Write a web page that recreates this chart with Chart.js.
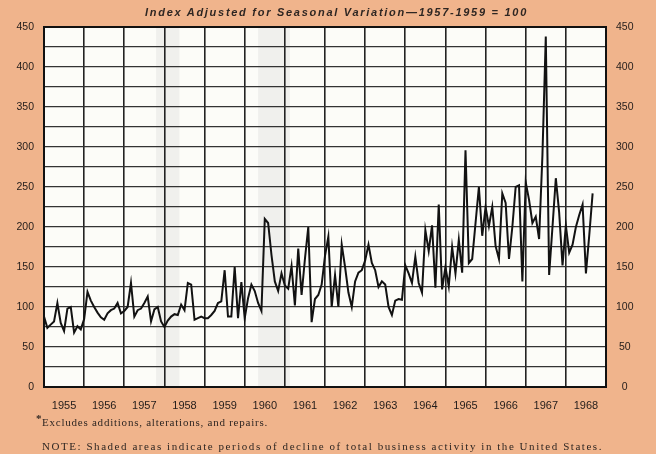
<!DOCTYPE html>
<html>
<head>
<meta charset="utf-8">
<script src="https://cdn.jsdelivr.net/npm/chart.js@4/dist/chart.umd.min.js"></script>
<style>
html,body{margin:0;padding:0;background:#f0b48c;}
#wrap{position:relative;width:656px;height:454px;overflow:hidden;background:#f0b48c;}
#wrap canvas{position:absolute;left:0;top:0;}
.t{position:absolute;white-space:nowrap;color:#2e2622;line-height:1;}
#title{top:6px;left:145px;font:italic bold 11px "Liberation Sans",sans-serif;}
#f1{top:416px;left:42px;font:11px "Liberation Serif",serif;}
#f1 sup{position:absolute;left:-6px;top:-4px;font-size:11px;font-weight:bold;}
#f2{top:440px;left:42px;font:11px "Liberation Serif",serif;}
</style>
</head>
<body>
<div id="wrap">
  <canvas id="c" width="656" height="454"></canvas>
  <div class="t" id="title">Index Adjusted for Seasonal Variation—1957-1959 = 100</div>
  <div class="t" id="f1"><sup>*</sup><span id="f1t">Excludes additions, alterations, and repairs.</span></div>
  <div class="t" id="f2">NOTE: Shaded areas indicate periods of decline of total business activity in the United States.</div>
</div>
<script>
// ---- data (monthly index, 1957-1959 = 100) ----
const years = ['1955','1956','1957','1958','1959','1960','1961','1962','1963','1964','1965','1966','1967','1968'];
const values1955 = [88, 74, 78, 82, 105, 80, 70, 98, 100, 68, 76, 72];
const values1956 = [85, 119, 108, 100, 93, 87, 84, 92, 96, 98, 105, 92];
const values1957 = [95, 100, 130, 88, 96, 98, 105, 113, 82, 97, 100, 82];
const values1958 = [75, 83, 88, 91, 90, 103, 96, 130, 128, 84, 86, 88];
const values1959 = [86, 86, 90, 95, 105, 107, 146, 88, 88, 150, 86, 131];
const values1960 = [86, 111, 128, 120, 105, 95, 210, 205, 165, 132, 120, 142];
const values1961 = [127, 123, 151, 102, 173, 115, 160, 200, 81, 110, 115, 128];
const values1962 = [164, 188, 100, 140, 100, 178, 150, 118, 100, 132, 143, 146];
const values1963 = [158, 178, 155, 146, 125, 132, 128, 100, 90, 108, 110, 109];
const values1964 = [152, 142, 130, 163, 130, 118, 196, 170, 202, 124, 228, 122];
const values1965 = [150, 126, 175, 142, 184, 143, 296, 155, 160, 205, 250, 189];
const values1966 = [225, 201, 225, 176, 160, 242, 230, 160, 200, 250, 252, 132];
const values1967 = [256, 234, 205, 213, 185, 290, 438, 140, 200, 261, 218, 152];
const values1968 = [202, 168, 178, 200, 215, 228, 142, 190, 242];
// periods of decline of business activity, in months from Jan 1955 (start, end)
const declineStart = [33.5, 64];
const declineEnd = [40.5, 73.5];
const yMax = 450;
const yGridStep = 25;
const yLabelStep = 50;

const allValues = [].concat(values1955, values1956, values1957, values1958, values1959,
  values1960, values1961, values1962, values1963, values1964, values1965, values1966,
  values1967, values1968);
const points = allValues.map((v, i) => ({x: i, y: v}));

const bgPlugin = {
  id: 'bg',
  beforeDraw(chart) {
    const {ctx, chartArea: a, scales: {x}} = chart;
    ctx.save();
    ctx.fillStyle = '#f0b48c';
    ctx.fillRect(0, 0, chart.width, chart.height);
    ctx.fillStyle = '#fcfcf8';
    ctx.fillRect(a.left, a.top, a.right - a.left, a.bottom - a.top);
    ctx.fillStyle = 'rgba(180,180,180,0.16)';
    for (let i = 0; i < declineStart.length; i++) {
      const x0 = x.getPixelForValue(declineStart[i]);
      const x1 = x.getPixelForValue(declineEnd[i]);
      ctx.fillRect(x0, a.top, x1 - x0, a.bottom - a.top);
    }
    ctx.restore();
  },
  afterDraw(chart) {
    const {ctx, chartArea: a} = chart;
    ctx.save();
    ctx.strokeStyle = '#111';
    ctx.lineWidth = 2;
    ctx.strokeRect(a.left, a.top, a.right - a.left, a.bottom - a.top);
    ctx.restore();
  }
};

const gridTicks = [];
for (let v = 0; v <= yMax; v += yGridStep) gridTicks.push({value: v});
const monthTicks = [];
for (let m = 0; m <= years.length * 12; m += 6) monthTicks.push({value: m});

const labelColor = '#221c1a';

new Chart(document.getElementById('c'), {
  type: 'line',
  data: {
    datasets: [{
      data: points,
      borderColor: '#121212',
      borderWidth: 2,
      pointRadius: 0,
      tension: 0,
      fill: false
    }]
  },
  options: {
    responsive: false,
    animation: false,
    devicePixelRatio: 1,
    layout: {padding: {top: 27, left: 0, right: 0, bottom: 0}},
    plugins: {legend: {display: false}, tooltip: {enabled: false}, title: {display: false}},
    scales: {
      x: {
        type: 'linear',
        min: 0,
        max: years.length * 12,
        afterBuildTicks(axis) { axis.ticks = monthTicks.map(t => ({value: t.value})); },
        afterFit(axis) { axis.height = 67; },
        ticks: {
          autoSkip: false,
          maxRotation: 0,
          padding: 12,
          color: labelColor,
          font: {family: '"Liberation Sans", sans-serif', size: 11},
          callback(v) { return (v % 12 === 6) ? years[(v - 6) / 12] : ''; }
        },
        grid: {
          drawTicks: false,
          color(ctx) { return (ctx.tick && ctx.tick.value % 12 === 0) ? '#222' : 'rgba(0,0,0,0)'; },
          lineWidth: 1.6
        },
        border: {display: true, color: '#111', width: 2}
      },
      y: {
        type: 'linear',
        position: 'left',
        min: 0,
        max: yMax,
        afterBuildTicks(axis) { axis.ticks = gridTicks.map(t => ({value: t.value})); },
        afterFit(axis) { axis.width = 44; },
        ticks: {
          padding: 10,
          color: labelColor,
          font: {family: '"Liberation Sans", sans-serif', size: 10.5},
          callback(v) { return (v % yLabelStep === 0) ? String(v) : ''; }
        },
        grid: {drawTicks: false, color: '#333', lineWidth: 1.2},
        border: {display: true, color: '#111', width: 2}
      },
      y2: {
        type: 'linear',
        position: 'right',
        min: 0,
        max: yMax,
        afterBuildTicks(axis) { axis.ticks = gridTicks.map(t => ({value: t.value})); },
        afterFit(axis) { axis.width = 50; },
        ticks: {
          padding: 10,
          crossAlign: 'center',
          color: labelColor,
          font: {family: '"Liberation Sans", sans-serif', size: 10.5},
          callback(v) { return (v % yLabelStep === 0) ? String(v) : ''; }
        },
        grid: {display: false, drawTicks: false},
        border: {display: true, color: '#111', width: 2}
      }
    }
  },
  plugins: [bgPlugin]
});

// fit text widths to the reference layout
function fit(el, target) {
  el.style.letterSpacing = '0px';
  const w = el.getBoundingClientRect().width;
  const n = el.textContent.length;
  if (n > 1) el.style.letterSpacing = ((target - w) / n) + 'px';
}
fit(document.getElementById('title'), 383);
fit(document.getElementById('f1t'), 226);
fit(document.getElementById('f2'), 561);
</script>
</body>
</html>
